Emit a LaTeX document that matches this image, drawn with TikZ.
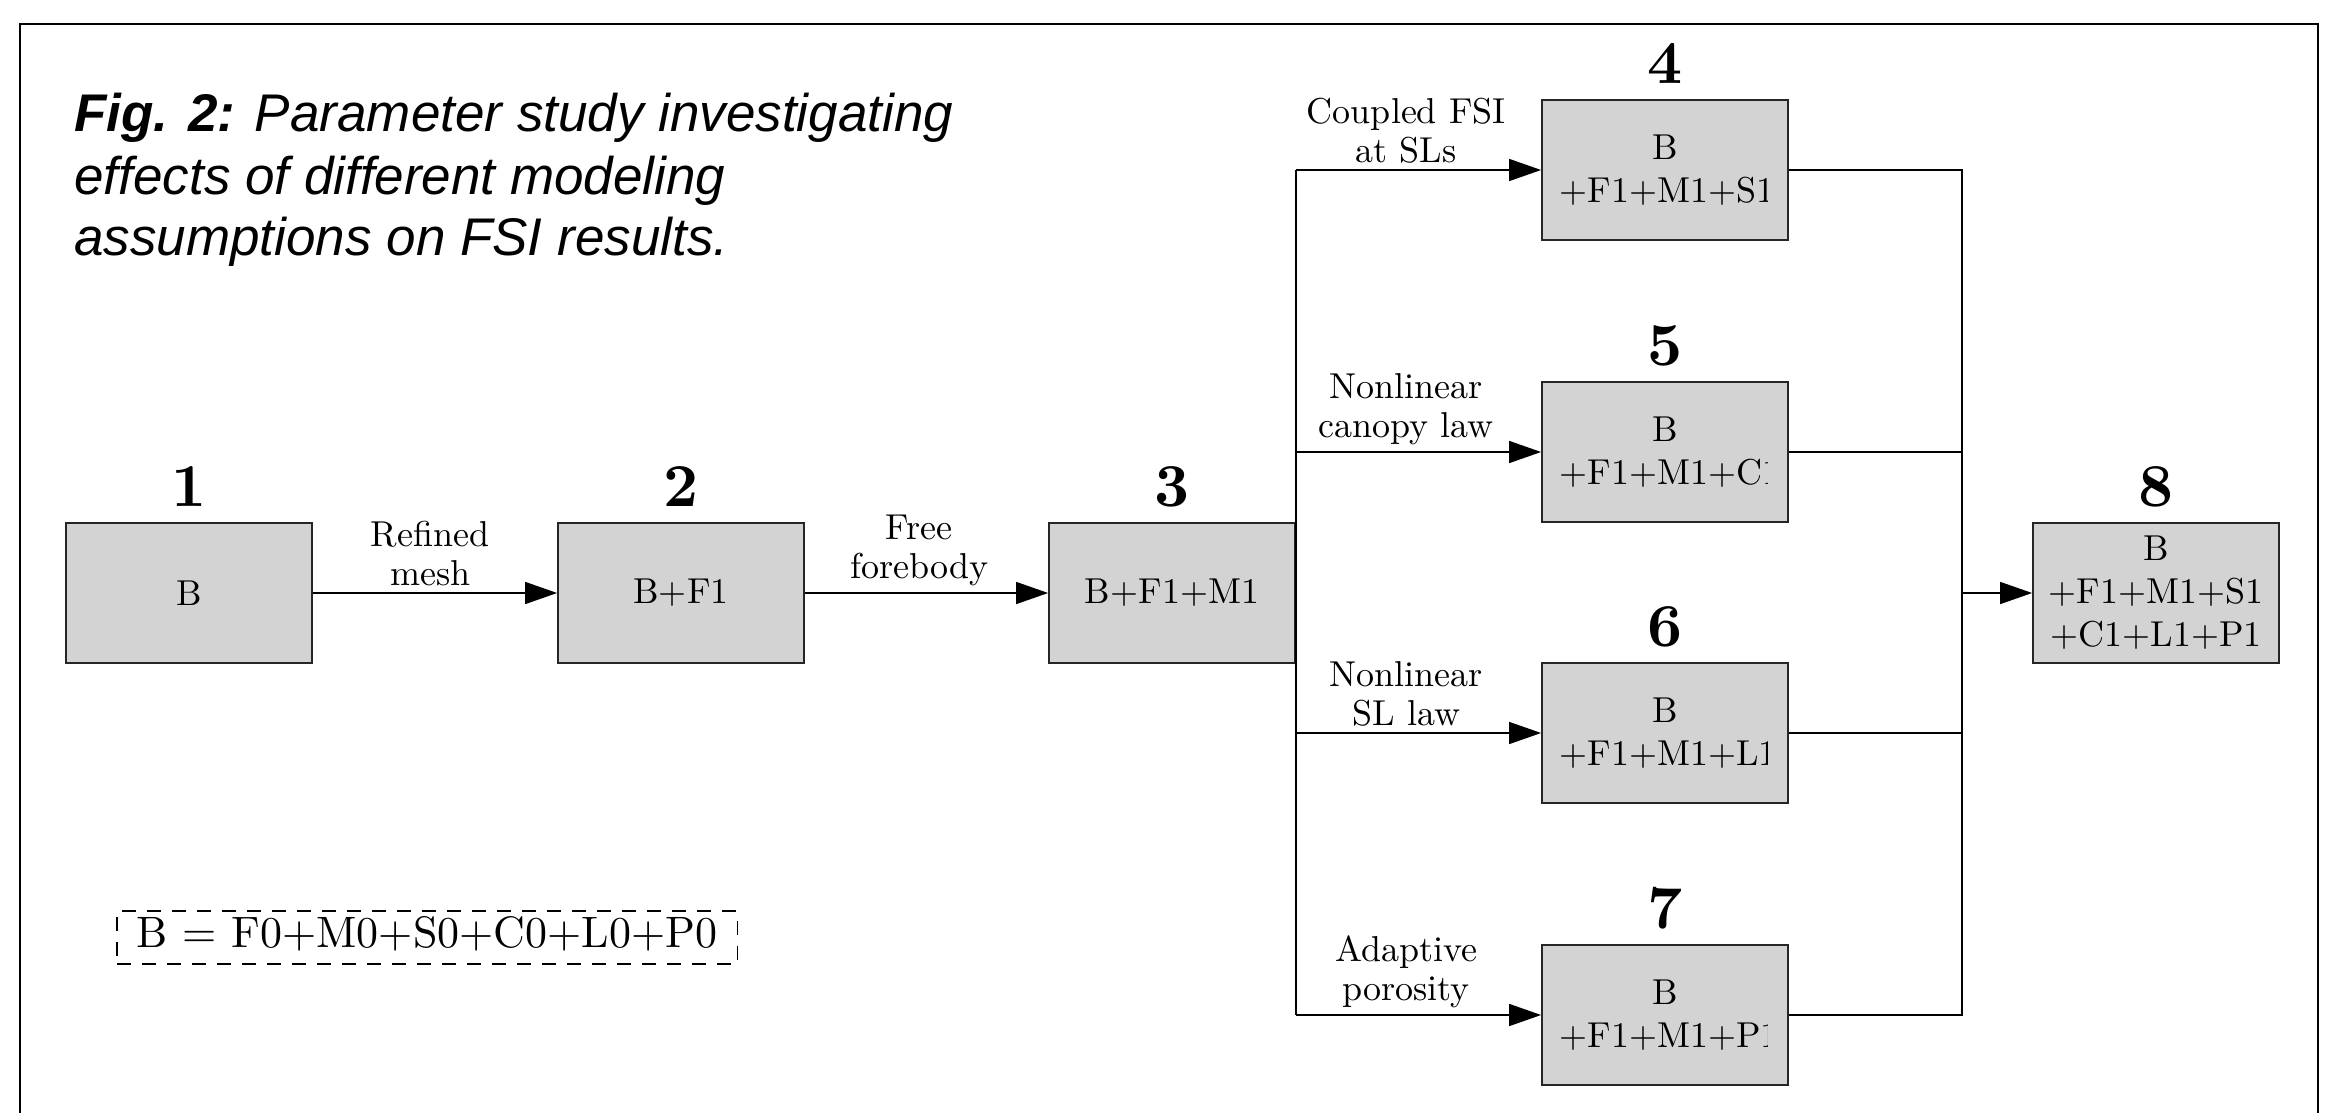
\documentclass[tikz,border=0pt]{standalone}
\usepackage{fontspec}
\setmainfont{lmroman10-regular.otf}[BoldFont=lmroman10-bold.otf, ItalicFont=lmroman10-italic.otf, BoldItalicFont=lmroman10-bolditalic.otf]
\newfontfamily\titlefont{Liberation Sans}
\usetikzlibrary{arrows.meta,calc}
\definecolor{boxgray}{RGB}{211,211,211}
\begin{document}
\begin{tikzpicture}[x=0.5pt,y=-0.5pt,
  box/.style={draw=black!85, line width=0.9pt, fill=boxgray, minimum width=123pt, minimum height=70pt, inner sep=0pt, align=center, font=\fontsize{18}{21.5}\selectfont},
  num/.style={font=\fontsize{30.5}{34}\selectfont\bfseries, anchor=base, inner sep=0pt},
  lbl/.style={font=\fontsize{18}{19.5}\selectfont, align=center, inner xsep=0pt, inner ysep=3pt, above},
  arr/.style={line width=0.8pt, -{Triangle[length=16pt,width=11pt]}},
  conn/.style={line width=0.8pt},
  overflow/.style={anchor=base west, inner sep=0pt, font=\fontsize{18}{21.5}\selectfont},
  titletext/.style={anchor=base west, inner sep=0pt, font=\titlefont\itshape\fontsize{26.5}{30}\selectfont},
  legend/.style={draw, line width=0.9pt, dash pattern=on 7pt off 5.5pt, anchor=base west, inner xsep=10pt, inner ysep=1pt, text height=17pt, text depth=7.5pt, font=\fontsize{22}{26}\selectfont}
  ]
\useasboundingbox (0,0) rectangle (2341,1113);
% outer frame
\draw[line width=0.9pt] (20,1125) -- (20,24) -- (2318,24) -- (2318,1125);

% title
\node[titletext] (t1) at (74,132) {\textbf{Fig. 2:} Parameter study investigating};
\node[titletext] (t2) at (74,194) {effects of different modeling};
\node[titletext] (t3) at (74,256) {assumptions on FSI results.};

% boxes
\node[box] (b1) at (189,593) {B};
\node[box] (b2) at (681,593) {B+F1};
\node[box] (b3) at (1172,593) {B+F1+M1};
\node[box] (b4) at (1665,170) {B\\\phantom{+}};
\node[box] (b5) at (1665,452) {B\\\phantom{+}};
\node[box] (b6) at (1665,733) {B\\\phantom{+}};
\node[box] (b7) at (1665,1015) {B\\\phantom{+}};
\node[box] (b8) at (2156,593) {B\\+F1+M1+S1\\+C1+L1+P1};

% overflowing second lines (clipped)
\foreach \b/\t in {b4/S1, b5/C1, b6/L1, b7/P1} {
  \begin{scope}
    \clip ($(\b.north west)+(18,0)$) rectangle ($(\b.south west)+(226,0)$);
    \node[overflow] (\b-line2) at ($(\b.west)+(18,32.3)$) {+F1+M1+\t};
  \end{scope}
}

% numbers
\node[num] (n1) at ($(b1.north)+(0,-16)$) {1};
\node[num] (n2) at ($(b2.north)+(0,-16)$) {2};
\node[num] (n3) at ($(b3.north)+(0,-16)$) {3};
\node[num] (n4) at ($(b4.north)+(0,-16)$) {4};
\node[num] (n5) at ($(b5.north)+(0,-16)$) {5};
\node[num] (n6) at ($(b6.north)+(0,-16)$) {6};
\node[num] (n7) at ($(b7.north)+(0,-16)$) {7};
\node[num] (n8) at ($(b8.north)+(0,-16)$) {8};

% main chain
\draw[arr] (b1) -- node[lbl, pos=0.48] (l1) {Refined\\mesh} (b2);
\draw[arr] (b2) -- node[lbl, pos=0.47] (l2) {Free\\forebody} (b3);

% split
\draw[conn] (b3.east |- b4.west) -- (b3.east |- b7.west);
\draw[arr] (b3.east |- b4.west) -- node[lbl, pos=0.45] (l4) {Coupled FSI\\at SLs} (b4.west);
\draw[arr] (b3.east |- b5.west) -- node[lbl, pos=0.45] (l5) {Nonlinear\\canopy law} (b5.west);
\draw[arr] (b3.east |- b6.west) -- node[lbl, pos=0.45] (l6) {Nonlinear\\SL law} (b6.west);
\draw[arr] (b3.east |- b7.west) -- node[lbl, pos=0.45] (l7) {Adaptive\\porosity} (b7.west);

% merge
\coordinate (mx) at (1962,593);
\draw[conn] (b4.east) -- (b4.east -| mx) -- (b7.east -| mx) -- (b7.east);
\draw[conn] (b5.east) -- (b5.east -| mx);
\draw[conn] (b6.east) -- (b6.east -| mx);
\draw[arr] (mx) -- (b8.west);

% legend
\node[legend] (leg) at (116,947) {B = F0+M0+S0+C0+L0+P0};
\end{tikzpicture}
\end{document}
